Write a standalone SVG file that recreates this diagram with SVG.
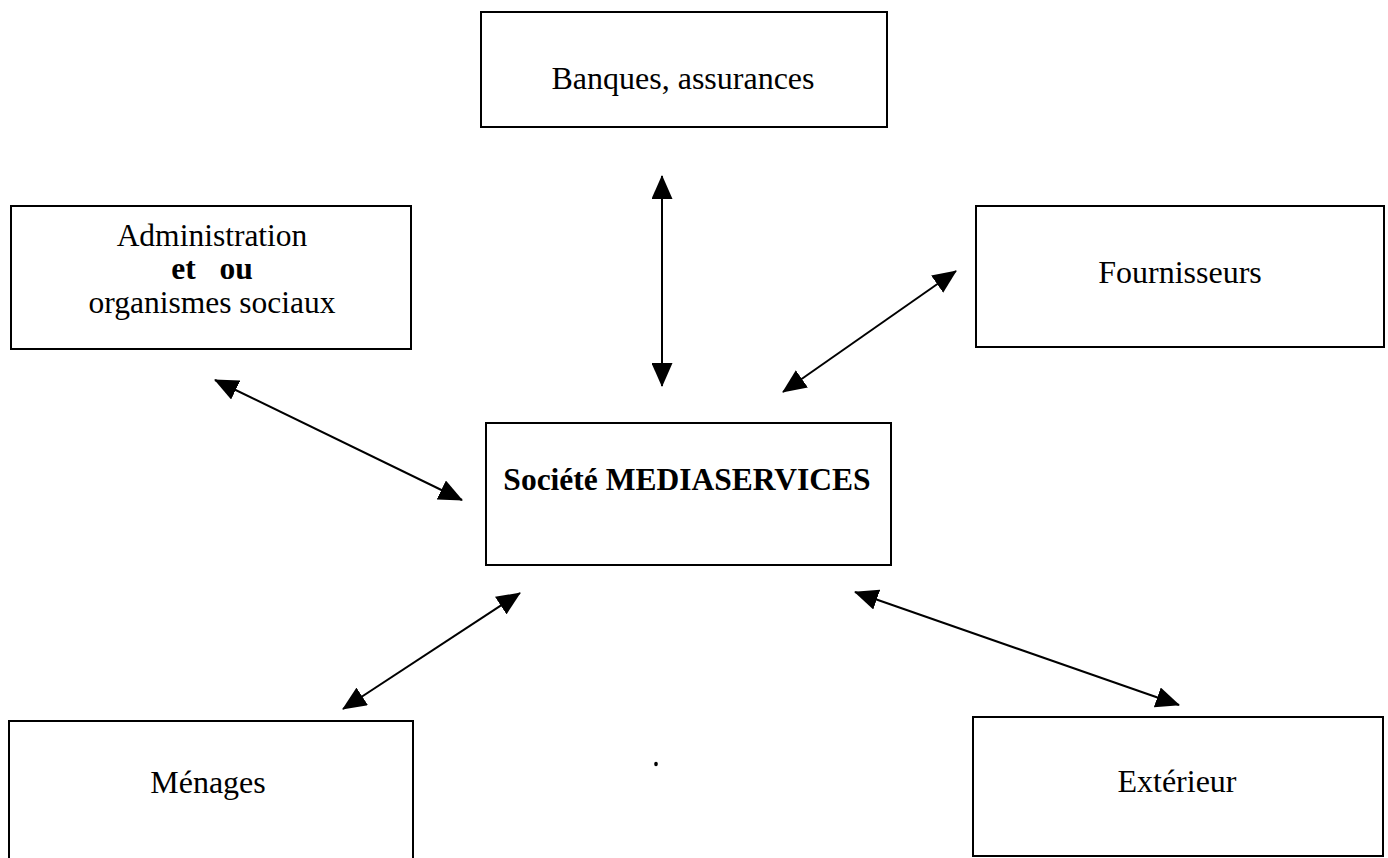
<svg xmlns="http://www.w3.org/2000/svg" width="1388" height="858" viewBox="0 0 1388 858">
<style>
.box{fill:#fff;stroke:#000;stroke-width:2}
.t{font-family:"Liberation Serif","Times New Roman",serif;font-size:32px;fill:#000;text-anchor:middle}
.b{font-weight:bold}
.c{stroke:#000;stroke-width:2;fill:none;marker-start:url(#ah);marker-end:url(#ah)}
</style>
<defs>
<marker id="ah" markerUnits="userSpaceOnUse" markerWidth="24" markerHeight="21" refX="23" refY="10.5" orient="auto-start-reverse" viewBox="0 0 24 21">
<path d="M0,0 L24,10.5 L0,21 z" fill="#000"/>
</marker>
</defs>
<rect width="1388" height="858" fill="#fff"/>
<g id="connectors">
<line class="c" x1="662" y1="176" x2="662" y2="386"/>
<line class="c" x1="956" y1="271" x2="783" y2="392"/>
<line class="c" x1="215" y1="380" x2="462" y2="500"/>
<line class="c" x1="520" y1="593" x2="343" y2="709"/>
<line class="c" x1="855" y1="592" x2="1179" y2="705"/>
</g>
<g id="banques">
<rect class="box" x="481" y="12" width="406" height="115"/>
<text class="t" x="683" y="89">Banques, assurances</text>
</g>
<g id="administration">
<rect class="box" x="11" y="206" width="400" height="143"/>
<text class="t" x="212" y="246" style="font-size:31.5px">Administration</text>
<text class="t b" x="212" y="279" style="font-size:31.5px" xml:space="preserve">et   ou</text>
<text class="t" x="212" y="313" style="font-size:31.5px">organismes sociaux</text>
</g>
<g id="fournisseurs">
<rect class="box" x="976" y="206" width="408" height="141"/>
<text class="t" x="1180" y="283">Fournisseurs</text>
</g>
<g id="mediaservices">
<rect class="box" x="486" y="423" width="405" height="142"/>
<text class="t b" x="687" y="490" style="font-size:31.5px">Société MEDIASERVICES</text>
</g>
<g id="menages">
<rect class="box" x="9" y="721" width="404" height="145"/>
<text class="t" x="208" y="793">Ménages</text>
</g>
<g id="exterieur">
<rect class="box" x="973" y="717" width="410" height="139"/>
<text class="t" x="1177" y="792">Extérieur</text>
</g>
<ellipse cx="656" cy="764" rx="1.8" ry="2.2" fill="#000"/>
</svg>
